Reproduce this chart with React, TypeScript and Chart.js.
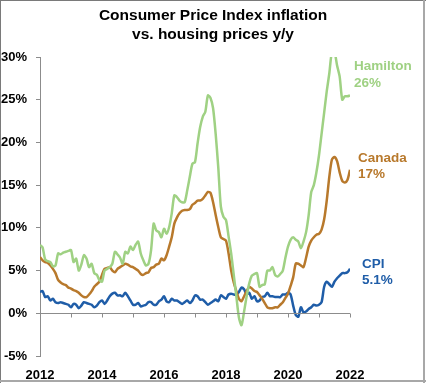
import React, { useEffect, useRef } from "react";
import { Chart, registerables } from "chart.js";

Chart.register(...registerables);

const START_YEAR = 2012;
const END_YEAR = 2022;
const Y_TICKS = [-5, 0, 5, 10, 15, 20, 25, 30];
const TITLE_LINES = ["Consumer Price Index inflation", "vs. housing prices y/y"];

// Monthly values, Jan 2012 .. Jan 2022
const hamilton = [
  8.0, 7.7, 6.3, 6.1, 6.0, 5.5, 5.6, 7.0, 6.9, 7.1, 7.2, 7.3,
  7.4, 6.0, 6.4, 5.0, 5.7, 6.8, 6.4, 5.4, 5.8, 4.7, 4.5, 3.9,
  3.7, 5.0, 5.2, 5.4, 5.8, 7.2, 6.9, 6.5, 5.8, 7.2, 7.0, 7.8,
  7.4, 8.0, 8.4, 7.0, 6.2, 5.6, 5.8, 7.4, 10.5, 9.7, 9.5, 8.9,
  9.9, 9.3, 10.1, 11.7, 13.8, 13.6, 13.2, 13.0, 13.0, 14.4, 16.0, 17.5,
  17.7, 19.9, 21.8, 23.0, 23.6, 25.5, 25.2, 24.0, 21.0, 17.1, 12.5, 11.3,
  10.9, 9.0, 7.0, 4.5, 2.0, -0.5, -1.4, 0.2, 2.0, 3.5, 4.4, 4.6,
  4.7, 3.1, 3.3, 3.4, 5.0, 5.0, 5.4, 4.5, 4.3, 4.6, 5.0, 6.5,
  7.8, 8.6, 8.9, 8.6, 8.4, 7.6, 8.4, 9.5, 11.5, 14.2, 15.0, 16.5,
  18.5, 21.0, 23.5, 26.0, 28.1, 30.6, 30.6, 29.0, 27.7, 25.0, 25.4, 25.4,
  25.5,
];

const canada = [
  6.6, 6.2, 6.0, 5.9, 5.6, 5.2, 4.7, 3.9, 3.6, 3.4, 3.3, 3.0,
  2.9, 2.7, 2.6, 2.4, 2.1, 1.9, 1.9, 2.2, 2.6, 3.1, 3.4, 3.7,
  4.5, 5.2, 5.3, 5.4, 5.0, 4.8, 5.2, 5.4, 5.6, 5.8, 5.7, 5.5,
  5.4, 5.2, 5.0, 4.6, 4.5, 4.7, 4.8, 5.3, 5.4, 5.7, 5.8, 6.4,
  6.2, 6.8, 7.8, 8.9, 10.5, 11.2, 11.7, 12.0, 12.1, 12.1, 12.2, 12.7,
  12.9, 13.2, 13.2, 13.4, 13.8, 14.2, 14.1, 13.0, 11.5, 10.1, 8.9, 8.7,
  8.5, 7.0, 5.0, 3.6, 2.6, 1.7, 1.4, 2.0, 2.6, 3.1, 2.9, 2.6,
  2.5, 2.1, 1.7, 1.2, 0.7, 0.6, 0.6, 0.7, 0.7, 1.0, 1.3, 1.8,
  2.3, 3.2, 4.2, 5.8, 5.8, 5.6, 5.4, 6.5, 7.8, 8.5, 8.9, 9.2,
  9.3, 9.8, 11.0, 13.2, 16.0, 18.0, 18.3, 17.8, 16.5, 15.5, 15.3, 15.6,
  16.8,
];

const cpi = [
  2.5, 2.6, 1.9, 2.0, 1.5, 1.7, 1.3, 1.2, 1.3, 1.2, 1.1, 1.0,
  0.7, 1.1, 1.0, 0.6, 0.9, 1.3, 1.2, 1.1, 1.0, 0.7, 0.9, 1.3,
  1.5, 1.1, 1.5, 2.0, 2.3, 2.4, 2.1, 2.1, 2.0, 2.4, 2.0, 1.5,
  1.0, 1.0, 1.2, 0.8, 0.9, 1.0, 1.3, 1.3, 1.0, 1.0, 1.4, 1.6,
  2.0, 1.4, 1.3, 1.7, 1.5, 1.5, 1.3, 1.1, 1.3, 1.5, 1.2, 1.5,
  2.1, 2.0, 1.6, 1.6, 1.3, 1.0, 1.2, 1.4, 1.6, 1.4, 2.1, 1.9,
  1.7, 2.2, 2.3, 2.2, 2.2, 2.5, 3.0, 2.8, 2.2, 2.4, 1.7, 2.0,
  1.4, 1.5, 1.9, 2.0, 2.4, 2.0, 2.0, 1.9, 1.9, 1.9, 2.2, 2.2,
  2.4, 2.2, 0.9, -0.2, -0.4, 0.7, 0.1, 0.2, 0.5, 0.7, 1.0, 0.9,
  1.0, 1.3, 3.1, 3.7, 3.4, 3.1, 3.7, 4.1, 4.4, 4.7, 4.7, 4.8,
  5.2,
];

const SERIES_LABELS = ["Hamilton", "Canada", "CPI"];
const END_LABELS = ["26%", "17%", "5.1%"];
const COLORS = ["#9FD183", "#B8792C", "#1F5DA8"];

const toPoints = (arr: number[]) =>
  arr.map((v, i) => ({ x: START_YEAR + i / 12, y: v }));

const FONT = "'Liberation Sans', Arial, sans-serif";

export default function App() {
  const ref = useRef<HTMLCanvasElement | null>(null);

  useEffect(() => {
    if (!ref.current) return;

    const decor = {
      id: "decor",
      beforeDraw(chart: any) {
        const ctx = chart.ctx;
        ctx.save();
        ctx.fillStyle = "#ffffff";
        ctx.fillRect(0, 0, chart.width, chart.height);
        ctx.restore();
      },
      afterDraw(chart: any) {
        const ctx = chart.ctx;
        const xs = chart.scales.x;
        const ys = chart.scales.y;
        const area = chart.chartArea;
        ctx.save();
        // title
        ctx.fillStyle = "#000";
        ctx.font = `bold 15.5px ${FONT}`;
        ctx.textAlign = "center";
        ctx.textBaseline = "alphabetic";
        ctx.fillText(TITLE_LINES[0], 213, 20);
        ctx.fillText(TITLE_LINES[1], 213, 39);
        // zero line with year ticks
        const y0 = Math.round(ys.getPixelForValue(0)) + 0.5;
        ctx.strokeStyle = "#8c8c8c";
        ctx.lineWidth = 1;
        ctx.beginPath();
        ctx.moveTo(area.left, y0);
        ctx.lineTo(area.right, y0);
        for (let yr = START_YEAR; yr <= END_YEAR; yr++) {
          const px = Math.round(xs.getPixelForValue(yr)) + 0.5;
          ctx.moveTo(px, y0);
          ctx.lineTo(px, y0 + 4);
        }
        ctx.stroke();
        // end labels
        const offsets = [
          [4, 70, 86.5],
          [8, 161.5, 177.5],
          [12, 267.5, 284],
        ];
        ctx.textAlign = "left";
        ctx.font = `bold 13.5px ${FONT}`;
        for (let i = 0; i < 3; i++) {
          ctx.fillStyle = COLORS[i];
          const lx = area.right + offsets[i][0];
          ctx.fillText(SERIES_LABELS[i], lx, offsets[i][1]);
          ctx.fillText(END_LABELS[i], lx, offsets[i][2]);
        }
        // frame
        ctx.strokeStyle = "#7a7a7a";
        ctx.beginPath();
        ctx.moveTo(0, 0.5);
        ctx.lineTo(chart.width, 0.5);
        ctx.moveTo(0.5, 0);
        ctx.lineTo(0.5, chart.height);
        ctx.stroke();
        ctx.strokeStyle = "#a8a8a8";
        ctx.lineWidth = 2;
        ctx.beginPath();
        ctx.moveTo(chart.width - 2, 0);
        ctx.lineTo(chart.width - 2, chart.height);
        ctx.moveTo(0, chart.height - 2);
        ctx.lineTo(chart.width, chart.height - 2);
        ctx.stroke();
        ctx.restore();
      },
    };

    const mk = (arr: number[], i: number) => ({
      label: SERIES_LABELS[i],
      data: toPoints(arr),
      borderColor: COLORS[i],
      backgroundColor: COLORS[i],
      borderWidth: 2.5,
      pointRadius: 0,
      tension: 0.25,
      fill: false,
    });

    const chart = new Chart(ref.current, {
      type: "line",
      data: {
        datasets: [mk(hamilton, 0), mk(canada, 1), mk(cpi, 2)],
      },
      options: {
        animation: false,
        responsive: false,
        devicePixelRatio: 1,
        layout: { padding: { top: 57, right: 76, bottom: 0, left: 0 } },
        plugins: {
          legend: { display: false },
          title: { display: false },
          tooltip: { enabled: false },
        },
        scales: {
          x: {
            type: "linear",
            min: START_YEAR,
            max: END_YEAR,
            afterFit: (s: any) => {
              s.height = 27;
            },
            afterBuildTicks: (s: any) => {
              const t = [];
              for (let yr = START_YEAR; yr <= END_YEAR; yr += 2) t.push({ value: yr });
              s.ticks = t;
            },
            grid: { display: false },
            border: { display: false },
            ticks: {
              padding: 4,
              maxRotation: 0,
              autoSkip: false,
              color: "#000",
              font: { family: FONT, size: 13, weight: "bold" },
              callback: (v: any) => String(v),
            },
          },
          y: {
            min: -5,
            max: 30,
            afterFit: (s: any) => {
              s.width = 40;
            },
            afterBuildTicks: (s: any) => {
              s.ticks = Y_TICKS.map((v) => ({ value: v }));
            },
            grid: {
              drawOnChartArea: false,
              drawTicks: true,
              tickLength: 4,
              color: "#8c8c8c",
            },
            border: { display: true, color: "#8c8c8c" },
            ticks: {
              padding: 9,
              color: "#000",
              font: { family: FONT, size: 13, weight: "bold" },
              callback: (v: any) => `${v}%`,
            },
          },
        },
      },
      plugins: [decor],
    } as any);

    return () => chart.destroy();
  }, []);

  return (
    <div style={{ position: "fixed", left: 0, top: 0, width: 426, height: 383 }}>
      <canvas ref={ref} width={426} height={383} style={{ display: "block" }} />
    </div>
  );
}
